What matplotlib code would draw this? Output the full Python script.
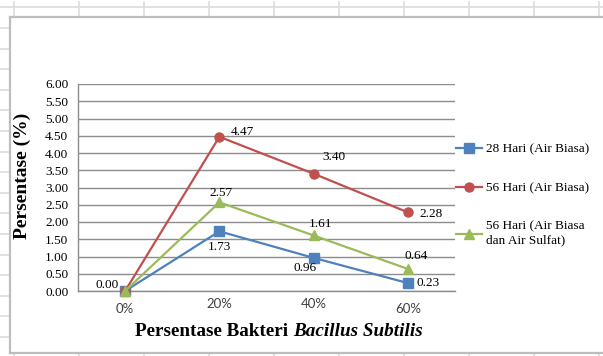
import matplotlib
matplotlib.use("Agg")
from matplotlib import pyplot as plt
from matplotlib.lines import Line2D
from matplotlib.transforms import ScaledTranslation
import numpy as np

# Persentase bakteri vs persentase (%) for each curing condition
categories = ["0%", "20%", "40%", "60%"]
hari28_biasa = [0.00, 1.73, 0.96, 0.23]
hari56_biasa = [0.00, 4.47, 3.40, 2.28]
hari56_sulfat = [0.00, 2.57, 1.61, 0.64]
series_names = ["28 Hari (Air Biasa)", "56 Hari (Air Biasa)",
                "56 Hari (Air Biasa\ndan Air Sulfat)"]

W, H = 603, 356
SERIF = "Liberation Serif"


def fx(px):
    return px / W


def fy(py):
    return 1 - py / H


fig = plt.figure(figsize=(W / 100, H / 100), dpi=100)
fig.patch.set_facecolor("white")

# worksheet cells behind the chart object
cell = "#dcdcdc"
fig.add_artist(Line2D([0, 1], [fy(7), fy(7)], color=cell, lw=1.2))
for x in range(14, W, 65):
    fig.add_artist(Line2D([fx(x), fx(x)], [fy(2), fy(16)], color=cell, lw=1.2))
    fig.add_artist(Line2D([fx(x), fx(x)], [fy(353), fy(356)], color=cell, lw=1.2))
for y in np.arange(28, 350, 20.6):
    fig.add_artist(Line2D([0, fx(9)], [fy(y), fy(y)], color=cell, lw=1.2))

# chart object border
border = "#bdbdbd"
fig.add_artist(Line2D([fx(10), 1], [fy(16.5), fy(16.5)], color=border, lw=1.6))
fig.add_artist(Line2D([fx(10), fx(10)], [fy(16.5), fy(353)], color=border, lw=1.6))
fig.add_artist(Line2D([fx(10), 1], [fy(353), fy(353)], color=border, lw=1.6))

ax = fig.add_axes([fx(78), fy(291), fx(455) - fx(78), fy(84) - fy(291)])

x = np.arange(len(categories))
styles = [
    (hari28_biasa, "#4F81BD", "s", 6.5),
    (hari56_biasa, "#C0504D", "o", 6.5),
    (hari56_sulfat, "#9BBB59", "^", 7.5),
]
for (vals, col, mk, ms), name in zip(styles, series_names):
    ax.plot(x, vals, color=col, marker=mk, markersize=ms, lw=1.6,
            label=name, clip_on=False, zorder=3)

# data label offsets in pixels (None = hidden behind another label)
offsets = [
    [None, (0, -16), (-9, -10), (20, 0)],
    [None, (23, 5), (20, 17), (23, -2)],
    [(-18, 6), (2, 9), (7, 11), (8, 13)],
]
for (vals, _, _, _), offs in zip(styles, offsets):
    for xi, v, off in zip(x, vals, offs):
        if off is None:
            continue
        ax.annotate(f"{v:.2f}", (xi, v), xytext=off, textcoords="offset pixels",
                    ha="center", va="center", fontsize=9.5, family=SERIF,
                    color="black", zorder=4)

ax.set_xlim(-0.5, 3.5)
ax.set_ylim(0, 6)
ax.set_yticks(np.arange(0, 6.01, 0.5))
ax.set_yticklabels([f"{t:.2f}" for t in np.arange(0, 6.01, 0.5)],
                   family=SERIF, fontsize=9.5)
ax.set_xticks(x)
ax.set_xticklabels(categories, family="Lato", fontsize=9.5, color="#404040")
ax.tick_params(axis="both", length=0)
ax.tick_params(axis="y", pad=7)
ax.tick_params(axis="x", pad=5)
for i, lab in enumerate(ax.get_xticklabels()):
    if i in (0, 3):
        lab.set_transform(lab.get_transform() +
                          ScaledTranslation(0, -5 / 100, fig.dpi_scale_trans))

ax.grid(axis="y", color="#8c8c8c", lw=1.0)
ax.set_axisbelow(True)
for side in ("top", "right"):
    ax.spines[side].set_visible(False)
for side in ("left", "bottom"):
    ax.spines[side].set_color("#8c8c8c")
    ax.spines[side].set_linewidth(1.0)

ax.set_ylabel("Persentase (%)", family=SERIF, fontweight="bold", fontsize=14)
ax.yaxis.set_label_coords(fx(31), fy(176), transform=fig.transFigure)

t1 = fig.text(fx(135), fy(332), "Persentase Bakteri ", family=SERIF,
              fontweight="bold", fontsize=13.8, ha="left", va="center")
ax.annotate("Bacillus Subtilis", xy=(1, 0.5), xycoords=t1, ha="left", va="center",
            family=SERIF, fontweight="bold", style="italic", fontsize=13.8,
            annotation_clip=False)

ax.legend(loc="center left", bbox_to_anchor=(fx(456), fy(195)),
          bbox_transform=fig.transFigure, frameon=False, handlelength=2.0,
          handletextpad=0.3, labelspacing=2.0, borderpad=0, borderaxespad=0,
          prop={"family": SERIF, "size": 9.5})

fig.savefig("out.png", dpi=100)
